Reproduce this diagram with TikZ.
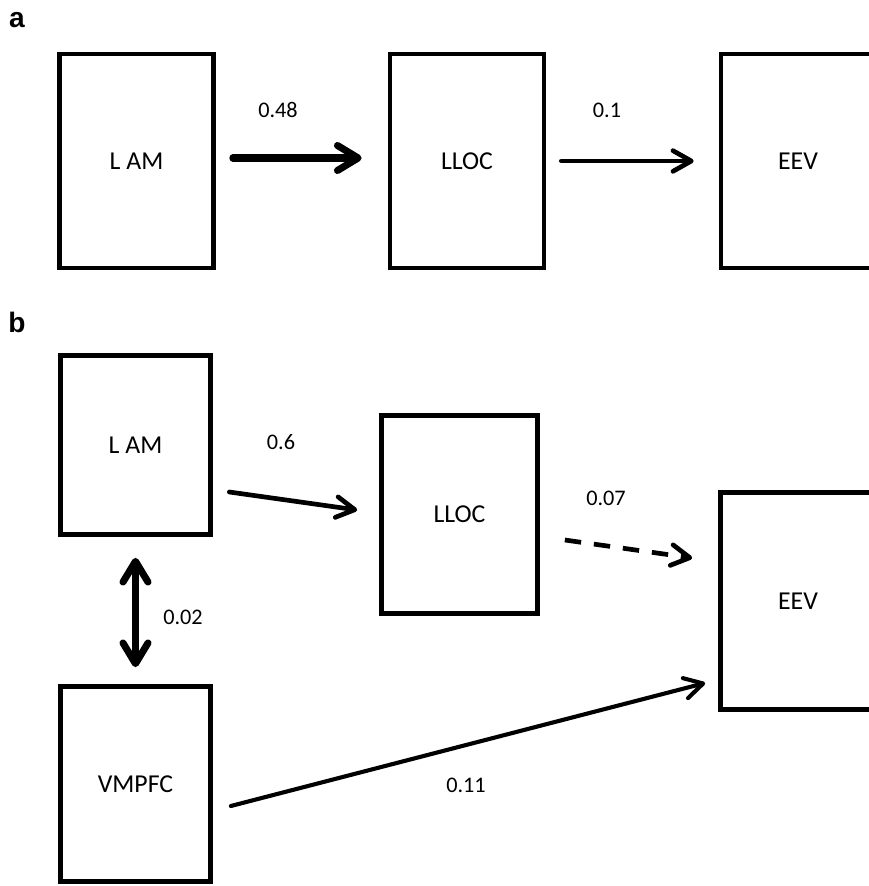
\documentclass[tikz,border=0pt]{standalone}
\usepackage{fontspec}
\setmainfont{Carlito}
\newfontfamily\panelfont{Liberation Sans}
\usetikzlibrary{arrows.meta}
\usetikzlibrary{calc}

\begin{document}
\begin{tikzpicture}[x=0.03cm,y=-0.03cm,
    box/.style={draw,rectangle,line width=4pt,inner sep=0pt,font=\fontsize{22}{26}\selectfont},
    weight/.style={font=\fontsize{19}{22}\selectfont},
    panel/.style={font=\panelfont\bfseries\fontsize{24}{28}\selectfont},
    link/.style={line width=4pt,line cap=round,-{Straight Barb[round,length=0.55cm,width=0.62cm]}},
    heavylink/.style={line width=6pt,line cap=round,-{Straight Barb[round,length=0.62cm,width=0.75cm]}}]
    \useasboundingbox (0,0) rectangle (869,886);
    \clip (0,0) rectangle (869,886);

    % Panel a: boxes
    \node[panel] (pa) at (17,20) {a};
    \node[box,minimum width=4.62cm,minimum height=6.42cm] (lama) at (136.5,161) {L AM};
    \node[box,minimum width=4.62cm,minimum height=6.42cm] (lloca) at (467,161) {LLOC};
    \node[box,minimum width=4.62cm,minimum height=6.42cm] (eeva) at (798,161) {EEV};

    % Panel a: paths
    \draw[heavylink] ($(lama.east)+(17,-3)$) -- ($(lloca.west)+(-26,-3)$);
    \draw[link] ($(lloca.east)+(15,0)$) -- ($(eeva.west)+(-25,0)$);
    \node[weight] (wa1) at (278,110) {0.48};
    \node[weight] (wa2) at (607,110) {0.1};

    % Panel b: boxes
    \node[panel] (pb) at (17,322) {b};
    \node[box,minimum width=4.5cm,minimum height=5.37cm] (lamb) at (135.5,445) {L AM};
    \node[box,minimum width=4.68cm,minimum height=5.94cm] (llocb) at (459.5,514.5) {LLOC};
    \node[box,minimum width=4.65cm,minimum height=6.51cm] (eevb) at (798,601) {EEV};
    \node[box,minimum width=4.5cm,minimum height=5.85cm] (vmpfc) at (135.5,784) {VMPFC};

    % Panel b: paths
    \draw[link] ($(lamb.east)+(16.5,47)$) -- ($(llocb.west)+(-22,-4.5)$);
    \draw[link,line cap=butt,dash pattern=on 14pt off 11pt] ($(llocb.east)+(25,25.5)$) -- ($(eevb.west)+(-26,-43)$);
    \draw[line width=6pt,{Straight Barb[round,length=0.62cm,width=0.75cm]}-{Straight Barb[round,length=0.62cm,width=0.75cm]}]
        ($(lamb.south)+(0,21)$) -- ($(vmpfc.north)+(0,-17)$);
    \draw[link,line width=3.5pt] ($(vmpfc.east)+(18,22)$) -- ($(eevb.west)+(-13,82)$);
    \node[weight] (wb1) at (281,442) {0.6};
    \node[weight] (wb2) at (606,498) {0.07};
    \node[weight] (wb3) at (183,617) {0.02};
    \node[weight] (wb4) at (466,785) {0.11};
\end{tikzpicture}
\end{document}
